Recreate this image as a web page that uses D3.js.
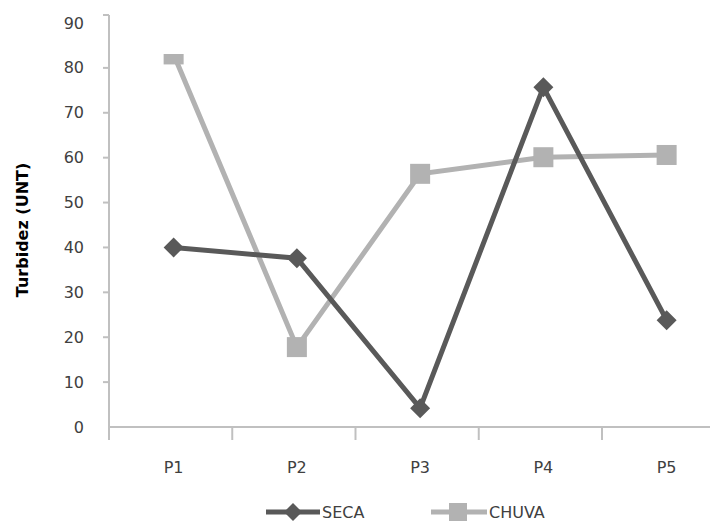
<!DOCTYPE html>
<html>
<head>
<meta charset="utf-8">
<script src="https://cdn.jsdelivr.net/npm/d3@7"></script>
<style>
  body { margin: 0; background: #fff; }
  svg { display: block; font-family: "DejaVu Sans", sans-serif; }
</style>
</head>
<body>
<svg id="chart" width="710" height="522"></svg>
<script>
const categories = ["P1", "P2", "P3", "P4", "P5"];
const seca = [40, 37.6, 4.2, 75.7, 23.8];
const chuva = [83, 17.8, 56.4, 60.1, 60.6];
const yTicks = [0, 10, 20, 30, 40, 50, 60, 70, 80, 90];
const seriesNames = ["SECA", "CHUVA"];

const svg = d3.select("#chart");
const colSeca = "#595959", colChuva = "#b2b2b2", axisCol = "#c0c0c0", textCol = "#404040";

const x = d3.scaleBand().domain(categories).range([109, 602 + 123.25]);
const y = d3.scaleLinear().domain([0, 90]).range([427, 23]);

// y axis line
svg.append("line").attr("x1", 109).attr("x2", 109).attr("y1", 15).attr("y2", 432)
  .attr("stroke", axisCol).attr("stroke-width", 2);
svg.append("line").attr("x1", 103).attr("x2", 109).attr("y1", 15).attr("y2", 15)
  .attr("stroke", axisCol).attr("stroke-width", 2);
// y ticks and labels
const yg = svg.append("g");
yTicks.forEach(t => {
  if (t > 0 && t < 90) {
    yg.append("line").attr("x1", 103).attr("x2", 109).attr("y1", y(t)).attr("y2", y(t))
      .attr("stroke", axisCol).attr("stroke-width", 2);
  }
  yg.append("text").attr("x", 84).attr("y", y(t)).attr("dy", "0.35em")
    .attr("text-anchor", "end").attr("font-size", 16).attr("fill", textCol).text(t);
});

// x axis
svg.append("line").attr("x1", 109).attr("x2", 710).attr("y1", 427).attr("y2", 427)
  .attr("stroke", axisCol).attr("stroke-width", 2);
const xb = categories.map(c => x(c)).concat([x.range()[1]]);
xb.forEach(v => {
  svg.append("line").attr("x1", v).attr("x2", v).attr("y1", 427).attr("y2", 440)
    .attr("stroke", axisCol).attr("stroke-width", 2);
});
const cx = c => x(c) + x.bandwidth() / 2 + 3;
categories.forEach(c => {
  svg.append("text").attr("x", cx(c)).attr("y", 467).attr("dy", "0.35em")
    .attr("text-anchor", "middle").attr("font-size", 16).attr("fill", textCol).text(c);
});

// y label
svg.append("text").attr("transform", "translate(22,230) rotate(-90)")
  .attr("text-anchor", "middle").attr("dy", "0.35em").attr("font-size", 16)
  .attr("font-weight", "bold").attr("fill", "#000").text("Turbidez (UNT)");

// clip
svg.append("clipPath").attr("id", "plotclip").append("rect")
  .attr("x", 100).attr("y", 54).attr("width", 620).attr("height", 400);

const line = d3.line().x((d, i) => cx(categories[i])).y(d => y(d));
const plot = svg.append("g").attr("clip-path", "url(#plotclip)");

// CHUVA
plot.append("path").datum(chuva).attr("d", line).attr("fill", "none")
  .attr("stroke", colChuva).attr("stroke-width", 5);
plot.selectAll("rect.chuva").data(chuva).enter().append("rect")
  .attr("x", (d, i) => cx(categories[i]) - 10).attr("y", d => y(d) - 10)
  .attr("width", 20).attr("height", 20).attr("fill", colChuva);

// SECA
plot.append("path").datum(seca).attr("d", line).attr("fill", "none")
  .attr("stroke", colSeca).attr("stroke-width", 5);
const diamond = (px, py, r) => `M${px},${py - r}L${px + r},${py}L${px},${py + r}L${px - r},${py}Z`;
plot.selectAll("path.seca").data(seca).enter().append("path")
  .attr("d", (d, i) => diamond(cx(categories[i]), y(d), 10)).attr("fill", colSeca);

// legend
const lg = svg.append("g");
lg.append("line").attr("x1", 266).attr("x2", 320).attr("y1", 512).attr("y2", 512)
  .attr("stroke", colSeca).attr("stroke-width", 5);
lg.append("path").attr("d", diamond(293, 512, 9)).attr("fill", colSeca);
lg.append("text").attr("x", 322).attr("y", 512).attr("dy", "0.35em").attr("font-size", 16)
  .attr("fill", textCol).text(seriesNames[0]);
lg.append("line").attr("x1", 431).attr("x2", 487).attr("y1", 512).attr("y2", 512)
  .attr("stroke", colChuva).attr("stroke-width", 5);
lg.append("rect").attr("x", 449).attr("y", 503).attr("width", 18).attr("height", 18).attr("fill", colChuva);
lg.append("text").attr("x", 489).attr("y", 512).attr("dy", "0.35em").attr("font-size", 16)
  .attr("fill", textCol).text(seriesNames[1]);
</script>
</body>
</html>
